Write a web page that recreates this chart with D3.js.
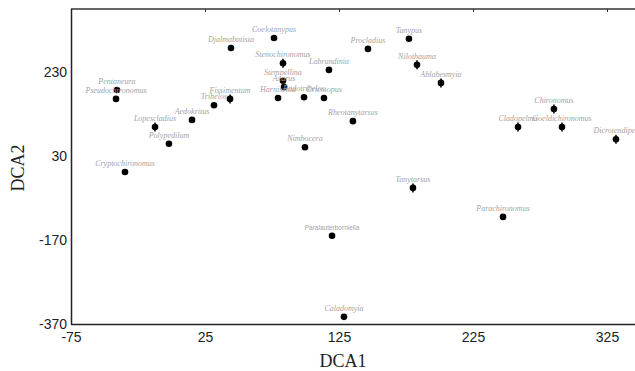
<!DOCTYPE html>
<html>
<head>
<meta charset="utf-8">
<script src="https://cdn.jsdelivr.net/npm/d3@7"></script>
<style>
  body { margin: 0; background: #fff; }
  svg { display: block; }
</style>
</head>
<body>
<svg id="chart" width="635" height="371"></svg>
<script>
// taxa scores on the first two DCA axes
const taxa = ['Pentaneura', 'Pseudochironomus', 'Lopescladius', 'Aedokritus', 'Polypedilum',
  'Cryptochironomus', 'Tribelos', 'Fissimentum', 'Djalmabatista', 'Coelotanypus',
  'Stenochironomus', 'Labrundinia', 'Procladius', 'Tanypus', 'Nilothauma', 'Ablabesmyia',
  'Stempellina', 'Axarus', 'Harnischia', 'Endotribelos', 'Cricotopus', 'Rheotanytarsus',
  'Nimbocera', 'Tanytarsus', 'Chironomus', 'Cladopelma', 'Goeldichironomus', 'Dicrotendipes',
  'Parachironomus', 'Paralauterborniella', 'Caladomyia'];
const dca1 = [-40.7, -41.4, -12.3, 15.3, -1.9, -34.7, 31.7, 43.7, 44.4, 76.5,
  83.2, 117.5, 146.6, 177.2, 183.2, 201.1, 83.2, 84, 79.5, 98.9, 113.8, 135.4,
  99.6, 180.2, 285.4, 258.6, 291.4, 331.7, 247.4, 119.8, 128.7];
const dca2 = [187, 166, 99, 116, 59, -8, 151, 166, 287, 311,
  251, 235, 285, 309, 247, 204, 209, 194, 168, 170, 168, 113,
  51, -46, 142, 99, 99, 70, -115, -160, -353];
// marker style: 1 = dot with bars, 0 = plain dot
const barred = [0, 0, 1, 0, 0, 0, 0, 1, 0, 0,
  1, 0, 0, 0, 1, 1, 0, 0, 0, 0, 0, 0,
  0, 1, 1, 1, 1, 1, 0, 0, 0];
const xTicks = [-75, 25, 125, 225, 325];
const yTicks = [230, 30, -170, -370];

const data = taxa.map((name, i) => ({name: name, x: dca1[i], y: dca2[i], barred: barred[i]}));

const mLeft = 71, mRight = 635, mTop = 9, mBottom = 324;

const xScale = d3.scaleLinear()
                 .domain([-75, 325])
                 .range([mLeft, 607]);
const yScale = d3.scaleLinear()
                 .domain([-370, 230])
                 .range([mBottom, 72]);

const svg = d3.select('#chart');

// frame line on top
svg.append('line')
   .attr('x1', mLeft).attr('x2', mRight)
   .attr('y1', mTop).attr('y2', mTop)
   .attr('stroke', '#333').attr('stroke-width', 1.5);

// top ticks
svg.append('g')
   .attr('transform', `translate(0,${mTop})`)
   .call(d3.axisTop(xScale).tickValues(xTicks).tickSize(-3).tickFormat(''))
   .call(g => g.select('.domain').remove())
   .selectAll('line').attr('stroke', '#333');

// bottom axis
const xAxis = svg.append('g')
   .attr('transform', `translate(0,${mBottom})`)
   .call(d3.axisBottom(xScale).tickValues(xTicks).tickSize(0).tickPadding(8).tickFormat(d => String(d)));
xAxis.select('.domain').attr('d', `M${mLeft},0.5H${mRight}`).attr('stroke', '#222').attr('stroke-width', 1.5);
xAxis.selectAll('text')
     .attr('font-family', 'Liberation Sans, Arial, sans-serif')
     .attr('font-size', 14).attr('fill', '#222');

// left axis
const yAxis = svg.append('g')
   .attr('transform', `translate(${mLeft},0)`)
   .call(d3.axisLeft(yScale).tickValues(yTicks).tickSize(0).tickPadding(4).tickFormat(d => String(d)));
yAxis.select('.domain').attr('d', `M0.5,${mTop}V${mBottom}`).attr('stroke', '#222').attr('stroke-width', 1.5);
yAxis.selectAll('text')
     .attr('font-family', 'Liberation Sans, Arial, sans-serif')
     .attr('font-size', 14).attr('fill', '#222');

// axis titles
svg.append('text')
   .attr('x', 343).attr('y', 367)
   .attr('text-anchor', 'middle')
   .attr('font-family', 'Liberation Serif, Times New Roman, serif')
   .attr('font-size', 18).attr('fill', '#222')
   .text('DCA1');

svg.append('text')
   .attr('transform', 'translate(24,168) rotate(-90)')
   .attr('text-anchor', 'middle')
   .attr('font-family', 'Liberation Serif, Times New Roman, serif')
   .attr('font-size', 18).attr('fill', '#222')
   .text('DCA2');

// points
const pts = svg.append('g');
pts.selectAll('line.bar')
   .data(data.filter(d => d.barred))
   .join('line')
   .attr('class', 'bar')
   .attr('x1', d => xScale(d.x)).attr('x2', d => xScale(d.x))
   .attr('y1', d => yScale(d.y) - 4.5).attr('y2', d => yScale(d.y) + 4.5)
   .attr('stroke', '#000').attr('stroke-width', 1.5);

pts.selectAll('circle')
   .data(data)
   .join('circle')
   .attr('cx', d => xScale(d.x))
   .attr('cy', d => yScale(d.y))
   .attr('r', 3.3)
   .attr('fill', '#000');

// labels
const isSans = d => d.name === 'Paralauterborniella';
svg.append('g')
   .selectAll('text')
   .data(data)
   .join('text')
   .attr('x', d => xScale(d.x))
   .attr('y', d => yScale(d.y) - 6)
   .attr('text-anchor', 'middle')
   .attr('font-family', d => isSans(d) ? 'Liberation Sans, Arial, sans-serif' : 'Liberation Serif, Times New Roman, serif')
   .attr('font-style', d => isSans(d) ? 'normal' : 'italic')
   .attr('font-size', d => isSans(d) ? 6.5 : 8)
   .attr('fill', '#a3a3a3')
   .text(d => d.name);
</script>
</body>
</html>
